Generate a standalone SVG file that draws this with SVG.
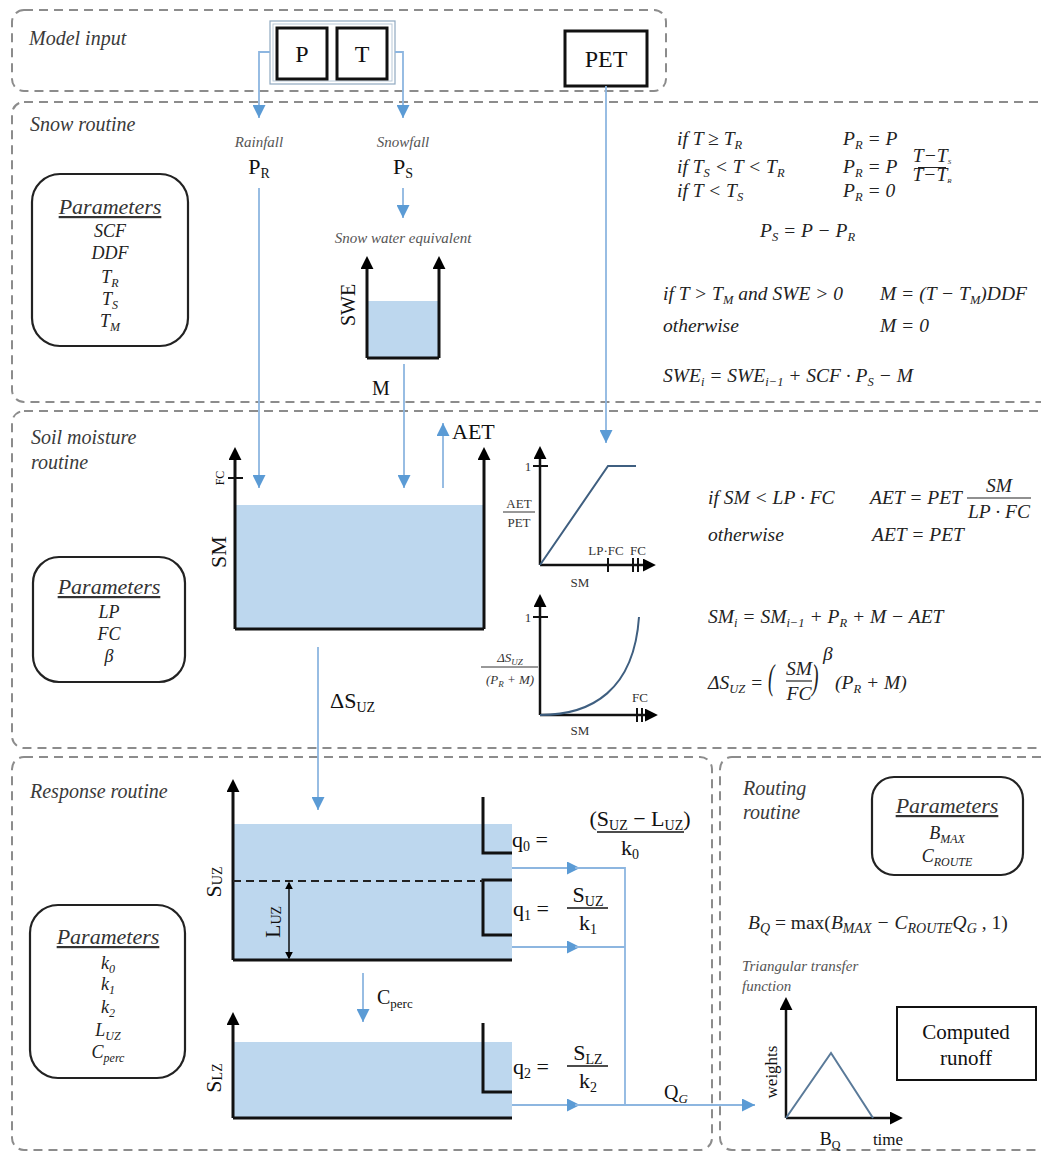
<svg xmlns="http://www.w3.org/2000/svg" width="1041" height="1155" viewBox="0 0 1041 1155">
<style>
.sec{fill:none;stroke:#8c8c8c;stroke-width:2;stroke-dasharray:9 6}
.lbl{font-family:"Liberation Serif",serif;font-style:italic;font-size:20px;fill:#3a3a3a}
.eq{font-family:"Liberation Serif",serif;font-style:italic;font-size:19.5px;fill:#222}
.up{font-family:"Liberation Serif",serif;fill:#111}
.wall{fill:none;stroke:#111;stroke-width:3}
.water{fill:#bdd7ee}
.flow{fill:none;stroke:#8db6e0;stroke-width:1.8}
.pbox{fill:#fff;stroke:#222;stroke-width:2.2}
.ptitle{font-family:"Liberation Serif",serif;font-style:italic;font-size:22px;fill:#333;text-decoration:underline}
.param{font-family:"Liberation Serif",serif;font-style:italic;font-size:18px;fill:#222}
.small{font-family:"Liberation Serif",serif;font-style:italic;font-size:15px;fill:#555}
.gr{font-family:"Liberation Serif",serif;font-size:13px;fill:#333}
.axis{fill:none;stroke:#111;stroke-width:2.5}
.curve{fill:none;stroke:#3f5f80;stroke-width:2}
</style>
<defs>
<marker id="ab" viewBox="0 0 10 10" refX="10" refY="5" markerWidth="13" markerHeight="13" markerUnits="userSpaceOnUse" orient="auto"><path d="M0,0 L10,5 L0,10 z" fill="#5b9bd5"/></marker>
<marker id="ak" viewBox="0 0 10 10" refX="7" refY="5" markerWidth="13" markerHeight="13" markerUnits="userSpaceOnUse" orient="auto"><path d="M0,0 L10,5 L0,10 z" fill="#000"/></marker>
<marker id="aks" viewBox="0 0 10 10" refX="8" refY="5" markerWidth="8" markerHeight="8" markerUnits="userSpaceOnUse" orient="auto-start-reverse"><path d="M0,0 L10,5 L0,10 z" fill="#000"/></marker>
</defs>
<rect width="1041" height="1155" fill="#fff"/>

<!-- sections -->
<g id="sections">
<rect class="sec" x="12" y="10" width="654" height="81" rx="12"/>
<rect class="sec" x="12" y="102" width="1060" height="300" rx="12"/>
<rect class="sec" x="12" y="411" width="1060" height="337" rx="12"/>
<rect class="sec" x="12" y="757" width="700" height="393" rx="12"/>
<rect class="sec" x="720" y="757" width="340" height="393" rx="12"/>
<text class="lbl" x="29" y="45">Model input</text>
<text class="lbl" x="30" y="131">Snow routine</text>
<text class="lbl" x="31" y="444">Soil moisture</text>
<text class="lbl" x="31" y="469">routine</text>
<text class="lbl" x="30" y="798">Response routine</text>
<text class="lbl" x="743" y="795">Routing</text>
<text class="lbl" x="743" y="819">routine</text>
</g>

<!-- model input -->
<g id="input-PT">
<rect x="270" y="21" width="125" height="63" fill="none" stroke="#8fa9c0" stroke-width="1.2"/>
<rect x="273" y="24" width="119" height="57" fill="none" stroke="#b9c9d8" stroke-width="1"/>
<rect x="277" y="28" width="50" height="51" fill="#fff" stroke="#111" stroke-width="3"/>
<rect x="337" y="28" width="50" height="51" fill="#fff" stroke="#111" stroke-width="3"/>
<text class="up" x="302" y="62" font-size="24" text-anchor="middle">P</text>
<text class="up" x="362" y="62" font-size="24" text-anchor="middle">T</text>
</g>
<g id="input-PET">
<rect x="565" y="31" width="82" height="55" fill="#fff" stroke="#111" stroke-width="3"/>
<text class="up" x="606" y="67" font-size="24" text-anchor="middle">PET</text>
</g>

<!-- connectors -->
<g id="connectors">
<path class="flow" d="M270,52 H259 V118" marker-end="url(#ab)"/>
<path class="flow" d="M395,52 H403 V118" marker-end="url(#ab)"/>
<path class="flow" d="M259,188 V488" marker-end="url(#ab)"/>
<path class="flow" d="M403,188 V218" marker-end="url(#ab)"/>
<path class="flow" d="M404,364 V488" marker-end="url(#ab)"/>
<path class="flow" d="M443,488 V423" marker-end="url(#ab)"/>
<path class="flow" d="M606,86 V443" marker-end="url(#ab)"/>
<path class="flow" d="M318,647 V810" marker-end="url(#ab)"/>
<path class="flow" d="M363,973 V1022" marker-end="url(#ab)"/>
<path class="flow" d="M493,868 H580" marker-end="url(#ab)"/>
<path class="flow" d="M575,868 H625 V1105"/>
<path class="flow" d="M512,947 H580" marker-end="url(#ab)"/>
<path class="flow" d="M575,947 H625"/>
<path class="flow" d="M512,1105 H580" marker-end="url(#ab)"/>
<path class="flow" d="M575,1105 H755" marker-end="url(#ab)"/>
</g>

<!-- snow routine -->
<g id="snow-params">
<rect class="pbox" x="32" y="174" width="156" height="172" rx="28"/>
<text class="ptitle" x="110" y="214" text-anchor="middle">Parameters</text>
<text class="param" x="110" y="237" text-anchor="middle">SCF</text>
<text class="param" x="110" y="259" text-anchor="middle">DDF</text>
<text class="param" x="110" y="283" text-anchor="middle">T<tspan font-size="12" dy="4">R</tspan></text>
<text class="param" x="110" y="305" text-anchor="middle">T<tspan font-size="12" dy="4">S</tspan></text>
<text class="param" x="110" y="327" text-anchor="middle">T<tspan font-size="12" dy="4">M</tspan></text>
</g>
<g id="rainfall">
<text class="small" x="259" y="147" text-anchor="middle">Rainfall</text>
<text class="up" x="259" y="174" font-size="22" text-anchor="middle">P<tspan font-size="14" dy="4">R</tspan></text>
</g>
<g id="snowfall">
<text class="small" x="403" y="147" text-anchor="middle">Snowfall</text>
<text class="up" x="403" y="174" font-size="22" text-anchor="middle">P<tspan font-size="14" dy="4">S</tspan></text>
</g>
<g id="swe-bucket">
<text class="small" x="403" y="243" text-anchor="middle" font-size="15">Snow water equivalent</text>
<rect class="water" x="367" y="301" width="72" height="57"/>
<path class="wall" d="M367,358 V260" marker-end="url(#ak)"/>
<path class="wall" d="M439,358 V260" marker-end="url(#ak)"/>
<path class="wall" d="M367,358 H439"/>
<text class="up" transform="translate(348,305) rotate(-90)" font-size="20" text-anchor="middle" dominant-baseline="central">SWE</text>
<text class="up" x="381" y="395" font-size="20" text-anchor="middle">M</text>
</g>
<g id="snow-equations">
<text class="eq" x="677" y="145">if T ≥ T<tspan font-size="12.5" dy="4">R</tspan></text>
<text class="eq" x="843" y="145">P<tspan font-size="12.5" dy="4">R</tspan><tspan dy="-4"> = P</tspan></text>
<text class="eq" x="677" y="173">if T<tspan font-size="12.5" dy="4">S</tspan><tspan dy="-4"> &lt; T &lt; T</tspan><tspan font-size="12.5" dy="4">R</tspan></text>
<text class="eq" x="843" y="173">P<tspan font-size="12.5" dy="4">R</tspan><tspan dy="-4"> = P</tspan></text>
<text class="eq" x="932" y="162" font-size="10" text-anchor="middle">T−T<tspan font-size="7" dy="2">S</tspan></text>
<line x1="918" y1="167.5" x2="946" y2="167.5" stroke="#222" stroke-width="1"/>
<text class="eq" x="932" y="181" font-size="10" text-anchor="middle">T−T<tspan font-size="7" dy="2">R</tspan></text>
<text class="eq" x="677" y="197">if T &lt; T<tspan font-size="12.5" dy="4">S</tspan></text>
<text class="eq" x="843" y="197">P<tspan font-size="12.5" dy="4">R</tspan><tspan dy="-4"> = 0</tspan></text>
<text class="eq" x="760" y="237">P<tspan font-size="12.5" dy="4">S</tspan><tspan dy="-4"> = P − P</tspan><tspan font-size="12.5" dy="4">R</tspan></text>
<text class="eq" x="663" y="300">if T &gt; T<tspan font-size="12.5" dy="4">M</tspan><tspan dy="-4"> and SWE &gt; 0</tspan></text>
<text class="eq" x="880" y="300">M = (T − T<tspan font-size="12.5" dy="4">M</tspan><tspan dy="-4">)DDF</tspan></text>
<text class="eq" x="663" y="332">otherwise</text>
<text class="eq" x="880" y="332">M = 0</text>
<text class="eq" x="663" y="382">SWE<tspan font-size="12.5" dy="4">i</tspan><tspan dy="-4"> = SWE</tspan><tspan font-size="12.5" dy="4">i−1</tspan><tspan dy="-4"> + SCF · P</tspan><tspan font-size="12.5" dy="4">S</tspan><tspan dy="-4"> − M</tspan></text>
</g>

<!-- soil moisture routine -->
<g id="soil-params">
<rect class="pbox" x="33" y="557" width="152" height="125" rx="26"/>
<text class="ptitle" x="109" y="594" text-anchor="middle">Parameters</text>
<text class="param" x="109" y="618" text-anchor="middle">LP</text>
<text class="param" x="109" y="640" text-anchor="middle">FC</text>
<text class="param" x="109" y="662" text-anchor="middle" font-style="normal">β</text>
</g>
<g id="sm-bucket">
<rect class="water" x="235" y="505" width="249" height="124"/>
<path class="wall" d="M235,629 V451" marker-end="url(#ak)"/>
<path class="wall" d="M484,629 V451" marker-end="url(#ak)"/>
<path class="wall" d="M235,629 H484"/>
<path d="M228,478 H243" stroke="#111" stroke-width="2"/>
<text class="up" transform="translate(220,478) rotate(-90)" font-size="12" text-anchor="middle" dominant-baseline="central">FC</text>
<text class="up" transform="translate(218,552) rotate(-90)" font-size="22" text-anchor="middle" dominant-baseline="central">SM</text>
<text class="up" x="452" y="439" font-size="22">AET</text>
<text class="up" x="330" y="708" font-size="22">ΔS<tspan font-size="14" dy="4">UZ</tspan></text>
</g>
<g id="aet-graph">
<path class="axis" d="M540,565 V450" marker-end="url(#ak)"/>
<path class="axis" d="M540,565 H652" marker-end="url(#ak)"/>
<path d="M533,466 H548 M608,558 V572 M633,558 V572 M638,558 V572" stroke="#111" stroke-width="2"/>
<path class="curve" d="M540,565 L608,466 H636"/>
<text class="gr" x="528" y="471" text-anchor="middle">1</text>
<text class="gr" x="519" y="508" text-anchor="middle">AET</text>
<line x1="503" y1="512" x2="535" y2="512" stroke="#333" stroke-width="1"/>
<text class="gr" x="519" y="527" text-anchor="middle">PET</text>
<text class="gr" x="606" y="555" text-anchor="middle">LP·FC</text>
<text class="gr" x="638" y="555" text-anchor="middle">FC</text>
<text class="gr" x="580" y="587" text-anchor="middle">SM</text>
</g>
<g id="suz-graph">
<path class="axis" d="M540,715 V598" marker-end="url(#ak)"/>
<path class="axis" d="M540,715 H654" marker-end="url(#ak)"/>
<path d="M533,617 H548 M637,708 V722 M642,708 V722" stroke="#111" stroke-width="2"/>
<path class="curve" d="M540,715 C592,715 634,690 639,617"/>
<text class="gr" x="528" y="622" text-anchor="middle">1</text>
<text class="gr" x="510" y="662" text-anchor="middle" font-style="italic">ΔS<tspan font-size="9" dy="3">UZ</tspan></text>
<line x1="481" y1="667" x2="538" y2="667" stroke="#333" stroke-width="1"/>
<text class="gr" x="510" y="684" text-anchor="middle" font-style="italic">(P<tspan font-size="9" dy="3">R</tspan><tspan dy="-3"> + M)</tspan></text>
<text class="gr" x="640" y="702" text-anchor="middle">FC</text>
<text class="gr" x="580" y="735" text-anchor="middle">SM</text>
</g>
<g id="soil-equations">
<text class="eq" x="708" y="504">if SM &lt; LP · FC</text>
<text class="eq" x="870" y="504">AET = PET</text>
<text class="eq" x="999" y="492" text-anchor="middle">SM</text>
<line x1="967" y1="498" x2="1031" y2="498" stroke="#222" stroke-width="1.2"/>
<text class="eq" x="999" y="518" text-anchor="middle">LP · FC</text>
<text class="eq" x="708" y="541">otherwise</text>
<text class="eq" x="872" y="541">AET = PET</text>
<text class="eq" x="708" y="623">SM<tspan font-size="12.5" dy="4">i</tspan><tspan dy="-4"> = SM</tspan><tspan font-size="12.5" dy="4">i−1</tspan><tspan dy="-4"> + P</tspan><tspan font-size="12.5" dy="4">R</tspan><tspan dy="-4"> + M − AET</tspan></text>
<text class="eq" x="708" y="689">ΔS<tspan font-size="12.5" dy="4">UZ</tspan><tspan dy="-4"> =</tspan></text>
<text class="eq" transform="translate(768,689) scale(1,1.8)" font-size="27" font-style="normal">(</text>
<text class="eq" x="799" y="675" text-anchor="middle">SM</text>
<line x1="786" y1="681" x2="812" y2="681" stroke="#222" stroke-width="1.2"/>
<text class="eq" x="799" y="700" text-anchor="middle">FC</text>
<text class="eq" transform="translate(812,689) scale(1,1.8)" font-size="27" font-style="normal">)</text>
<text class="eq" x="823" y="660" font-size="13">β</text>
<text class="eq" x="835" y="689">(P<tspan font-size="12.5" dy="4">R</tspan><tspan dy="-4"> + M)</tspan></text>
</g>

<!-- response routine -->
<g id="response-params">
<rect class="pbox" x="30" y="905" width="155" height="173" rx="28"/>
<text class="ptitle" x="108" y="944" text-anchor="middle">Parameters</text>
<text class="param" x="108" y="969" text-anchor="middle">k<tspan font-size="12" dy="4">0</tspan></text>
<text class="param" x="108" y="990" text-anchor="middle">k<tspan font-size="12" dy="4">1</tspan></text>
<text class="param" x="108" y="1013" text-anchor="middle">k<tspan font-size="12" dy="4">2</tspan></text>
<text class="param" x="108" y="1036" text-anchor="middle">L<tspan font-size="12" dy="4">UZ</tspan></text>
<text class="param" x="108" y="1058" text-anchor="middle">C<tspan font-size="12" dy="4">perc</tspan></text>
</g>
<g id="uz-bucket">
<rect class="water" x="233" y="824" width="279" height="136"/>
<path class="wall" d="M233,960 V783" marker-end="url(#ak)"/>
<path class="wall" d="M233,960 H512"/>
<path class="wall" d="M483,797 V853 H512"/>
<path class="wall" d="M512,880 H483 V935 H512"/>
<path d="M233,881 H483" stroke="#222" stroke-width="2" stroke-dasharray="8 5"/>
<path d="M289,883 V958" stroke="#111" stroke-width="1.5" marker-start="url(#aks)" marker-end="url(#aks)"/>
<text class="up" transform="translate(213,882) rotate(-90)" font-size="22" text-anchor="middle" dominant-baseline="central">S<tspan font-size="14" dy="4">UZ</tspan></text>
<text class="up" transform="translate(272,922) rotate(-90)" font-size="22" text-anchor="middle" dominant-baseline="central">L<tspan font-size="14" dy="4">UZ</tspan></text>
<text class="up" x="377" y="1004" font-size="20">C<tspan font-size="13" dy="4">perc</tspan></text>
</g>
<g id="lz-bucket">
<rect class="water" x="233" y="1042" width="279" height="76"/>
<path class="wall" d="M233,1118 V1016" marker-end="url(#ak)"/>
<path class="wall" d="M233,1118 H512"/>
<path class="wall" d="M483,1023 V1092 H512"/>
<text class="up" transform="translate(213,1078) rotate(-90)" font-size="22" text-anchor="middle" dominant-baseline="central">S<tspan font-size="14" dy="4">LZ</tspan></text>
</g>
<g id="outflow-equations">
<text class="up" x="512" y="847" font-size="22">q<tspan font-size="14" dy="4">0</tspan><tspan dy="-4"> =</tspan></text>
<text class="up" x="640" y="826" font-size="22" text-anchor="middle">(S<tspan font-size="14" dy="4">UZ</tspan><tspan dy="-4"> − L</tspan><tspan font-size="14" dy="4">UZ</tspan><tspan dy="-4">)</tspan></text>
<line x1="597" y1="832" x2="684" y2="832" stroke="#111" stroke-width="1.3"/>
<text class="up" x="630" y="855" font-size="22" text-anchor="middle">k<tspan font-size="14" dy="4">0</tspan></text>
<text class="up" x="513" y="916" font-size="22">q<tspan font-size="14" dy="4">1</tspan><tspan dy="-4"> =</tspan></text>
<text class="up" x="588" y="902" font-size="22" text-anchor="middle">S<tspan font-size="14" dy="4">UZ</tspan></text>
<line x1="567" y1="908" x2="608" y2="908" stroke="#111" stroke-width="1.3"/>
<text class="up" x="588" y="930" font-size="22" text-anchor="middle">k<tspan font-size="14" dy="4">1</tspan></text>
<text class="up" x="513" y="1074" font-size="22">q<tspan font-size="14" dy="4">2</tspan><tspan dy="-4"> =</tspan></text>
<text class="up" x="588" y="1060" font-size="22" text-anchor="middle">S<tspan font-size="14" dy="4">LZ</tspan></text>
<line x1="567" y1="1066" x2="608" y2="1066" stroke="#111" stroke-width="1.3"/>
<text class="up" x="588" y="1088" font-size="22" text-anchor="middle">k<tspan font-size="14" dy="4">2</tspan></text>
<text class="up" x="664" y="1099" font-size="20">Q<tspan font-size="13" dy="4" font-style="italic">G</tspan></text>
</g>

<!-- routing routine -->
<g id="routing-params">
<rect class="pbox" x="872" y="777" width="151" height="98" rx="22"/>
<text class="ptitle" x="947" y="813" text-anchor="middle">Parameters</text>
<text class="param" x="947" y="839" text-anchor="middle">B<tspan font-size="12" dy="4">MAX</tspan></text>
<text class="param" x="947" y="862" text-anchor="middle">C<tspan font-size="12" dy="4">ROUTE</tspan></text>
</g>
<g id="routing-equation">
<text class="eq" x="748" y="929" font-size="22.5">B<tspan font-size="14" dy="4">Q</tspan><tspan dy="-4" font-style="normal"> = max(</tspan><tspan>B</tspan><tspan font-size="14" dy="4">MAX</tspan><tspan dy="-4"> − C</tspan><tspan font-size="14" dy="4">ROUTE</tspan><tspan dy="-4">Q</tspan><tspan font-size="14" dy="4">G</tspan><tspan dy="-4" font-style="normal"> , 1)</tspan></text>
</g>
<g id="transfer-function">
<text class="small" x="742" y="971" font-size="14">Triangular transfer</text>
<text class="small" x="742" y="991" font-size="14">function</text>
<path class="axis" d="M786,1118 V1001" marker-end="url(#ak)"/>
<path class="axis" d="M786,1118 H899" marker-end="url(#ak)"/>
<path d="M786,1118 L831,1053 L873,1118" fill="none" stroke="#5a7a99" stroke-width="2"/>
<text class="up" transform="translate(771,1072) rotate(-90)" font-size="17" text-anchor="middle" dominant-baseline="central">weights</text>
<text class="up" x="830" y="1145" font-size="18" text-anchor="middle">B<tspan font-size="12" dy="4">Q</tspan></text>
<text class="up" x="888" y="1145" font-size="17" text-anchor="middle">time</text>
</g>
<g id="computed-runoff">
<rect x="897" y="1007" width="139" height="73" fill="#fff" stroke="#111" stroke-width="2"/>
<text class="up" x="966" y="1039" font-size="21" text-anchor="middle">Computed</text>
<text class="up" x="966" y="1065" font-size="21" text-anchor="middle">runoff</text>
</g>
</svg>
